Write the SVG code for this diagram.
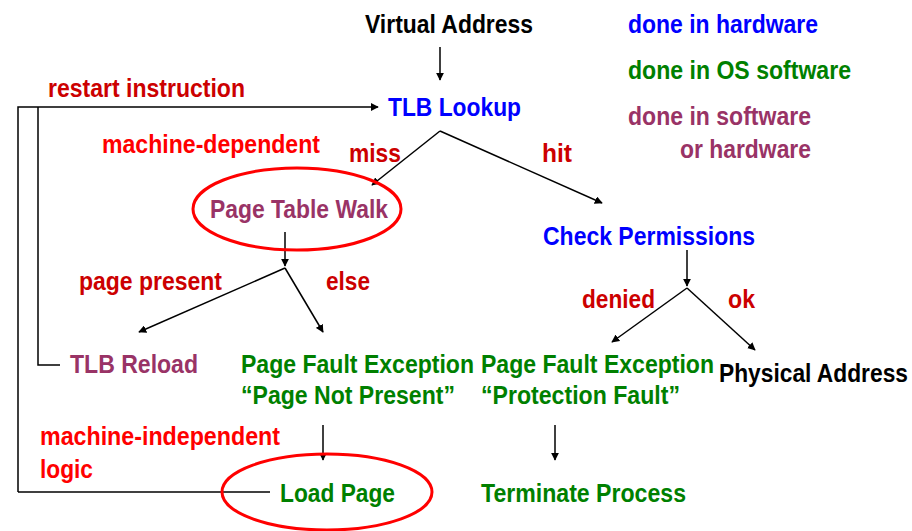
<svg xmlns="http://www.w3.org/2000/svg" width="912" height="531" viewBox="0 0 912 531">
<defs>
<marker id="ah" viewBox="0 0 10 10" refX="9" refY="5" markerWidth="8" markerHeight="8" markerUnits="userSpaceOnUse" orient="auto"><path d="M0,0 L10,5 L0,10 z" fill="#000"/></marker>
<style>
text{font-family:"Liberation Sans",Arial,sans-serif;font-size:25px;font-weight:bold}
.k{fill:#000}.b{fill:#0000FF}.g{fill:#008000}.p{fill:#993366}.dr{fill:#CC0000}.r{fill:#FF0000}
.ln{stroke:#000;stroke-width:1.5;fill:none}
.ell{stroke:#FF0000;stroke-width:3;fill:none}
</style>
</defs>
<rect width="912" height="531" fill="#fff"/>
<g id="legend">
<text class="b" x="628" y="33" textLength="190" lengthAdjust="spacingAndGlyphs">done in hardware</text>
<text class="g" x="628" y="79" textLength="223" lengthAdjust="spacingAndGlyphs">done in OS software</text>
<text class="p" x="628" y="125" textLength="183" lengthAdjust="spacingAndGlyphs">done in software</text>
<text class="p" x="680" y="158" textLength="131" lengthAdjust="spacingAndGlyphs">or hardware</text>
</g>
<g id="labels">
<text class="dr" x="48" y="97" textLength="197" lengthAdjust="spacingAndGlyphs">restart instruction</text>
<text class="r" x="102" y="153" textLength="218" lengthAdjust="spacingAndGlyphs">machine-dependent</text>
<text class="dr" x="349" y="162" textLength="52" lengthAdjust="spacingAndGlyphs">miss</text>
<text class="dr" x="542" y="162" textLength="30" lengthAdjust="spacingAndGlyphs">hit</text>
<text class="dr" x="79" y="290" textLength="143" lengthAdjust="spacingAndGlyphs">page present</text>
<text class="dr" x="326" y="290" textLength="44" lengthAdjust="spacingAndGlyphs">else</text>
<text class="dr" x="582" y="308" textLength="73" lengthAdjust="spacingAndGlyphs">denied</text>
<text class="dr" x="728" y="308" textLength="27" lengthAdjust="spacingAndGlyphs">ok</text>
<text class="r" x="40" y="445" textLength="240" lengthAdjust="spacingAndGlyphs">machine-independent</text>
<text class="r" x="40" y="478" textLength="53" lengthAdjust="spacingAndGlyphs">logic</text>
</g>
<g id="connectors">
<line class="ln" x1="440" y1="47" x2="440" y2="80" marker-end="url(#ah)"/>
<polyline class="ln" points="18,492 18,107 378,107" marker-end="url(#ah)"/>
<line class="ln" x1="18" y1="492" x2="270" y2="492"/>
<polyline class="ln" points="60,365 38,365 38,107"/>
<polyline class="ln" points="440,131 372,185" marker-end="url(#ah)"/>
<polyline class="ln" points="440,131 602,203" marker-end="url(#ah)"/>
<line class="ln" x1="285" y1="232" x2="285" y2="266" marker-end="url(#ah)"/>
<line class="ln" x1="285" y1="268" x2="139" y2="332" marker-end="url(#ah)"/>
<line class="ln" x1="285" y1="268" x2="323" y2="332" marker-end="url(#ah)"/>
<line class="ln" x1="323" y1="425" x2="323" y2="460" marker-end="url(#ah)"/>
<line class="ln" x1="687" y1="250" x2="687" y2="286" marker-end="url(#ah)"/>
<line class="ln" x1="687" y1="288" x2="612" y2="342" marker-end="url(#ah)"/>
<line class="ln" x1="687" y1="288" x2="755" y2="350" marker-end="url(#ah)"/>
<line class="ln" x1="555" y1="425" x2="555" y2="460" marker-end="url(#ah)"/>
</g>
<g id="virtual-address"><text class="k" x="365" y="33" textLength="168" lengthAdjust="spacingAndGlyphs">Virtual Address</text></g>
<g id="tlb-lookup"><text class="b" x="388" y="116" textLength="133" lengthAdjust="spacingAndGlyphs">TLB Lookup</text></g>
<g id="page-table-walk">
<ellipse class="ell" cx="297" cy="209" rx="104" ry="41"/>
<text class="p" x="210" y="218" textLength="178" lengthAdjust="spacingAndGlyphs">Page Table Walk</text>
</g>
<g id="check-permissions"><text class="b" x="543" y="245" textLength="212" lengthAdjust="spacingAndGlyphs">Check Permissions</text></g>
<g id="tlb-reload"><text class="p" x="70" y="373" textLength="128" lengthAdjust="spacingAndGlyphs">TLB Reload</text></g>
<g id="pf-not-present">
<text class="g" x="241" y="373" textLength="233" lengthAdjust="spacingAndGlyphs">Page Fault Exception</text>
<text class="g" x="241" y="404" textLength="214" lengthAdjust="spacingAndGlyphs">“Page Not Present”</text>
</g>
<g id="pf-protection">
<text class="g" x="481" y="373" textLength="233" lengthAdjust="spacingAndGlyphs">Page Fault Exception</text>
<text class="g" x="481" y="404" textLength="199" lengthAdjust="spacingAndGlyphs">“Protection Fault”</text>
</g>
<g id="physical-address"><text class="k" transform="translate(719,382) scale(0.99,1.087)" x="0" y="0" style="font-size:23px">Physical Address</text></g>
<g id="load-page">
<ellipse class="ell" cx="327" cy="492" rx="105" ry="38"/>
<text class="g" x="280" y="502" textLength="115" lengthAdjust="spacingAndGlyphs">Load Page</text>
</g>
<g id="terminate-process"><text class="g" x="481" y="502" textLength="205" lengthAdjust="spacingAndGlyphs">Terminate Process</text></g>
</svg>
